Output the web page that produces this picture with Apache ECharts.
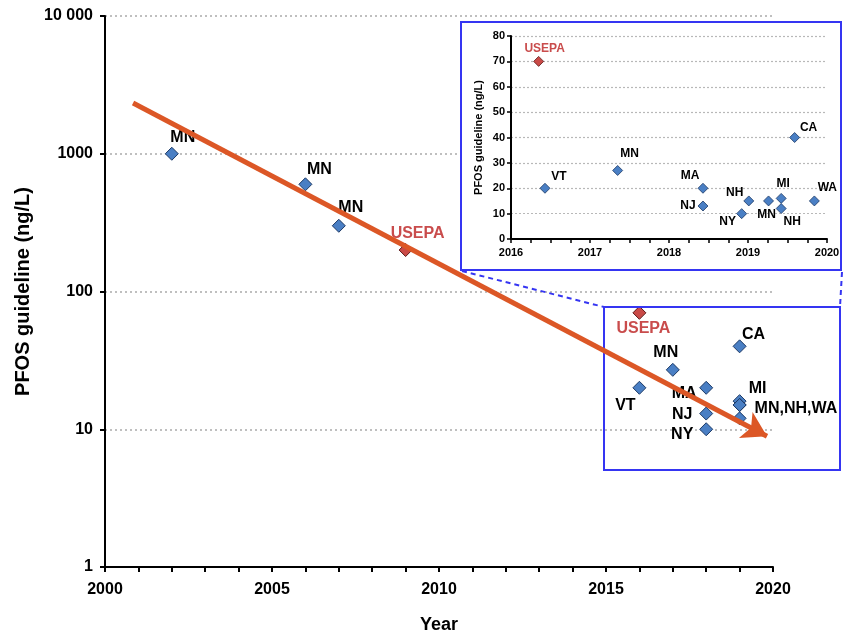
<!DOCTYPE html>
<html>
<head>
<meta charset="utf-8">
<title>PFOS guideline over time</title>
<script src="https://cdn.jsdelivr.net/npm/echarts@6/dist/echarts.min.js"></script>
<style>
  html, body { margin: 0; padding: 0; background: #fff; }
  #chart { width: 844px; height: 634px; }
</style>
</head>
<body>
<div id="chart"></div>
<script>
// ---- Main panel (log scale): state guidelines ----
const stateYears  = [2002, 2006, 2007, 2016, 2017, 2018, 2018, 2018, 2019, 2019, 2019, 2019, 2019, 2019];
const stateValues = [1000, 600, 300, 20, 27, 20, 13, 10, 40, 16, 15, 15, 12, 15];
const stateNames  = ['MN', 'MN', 'MN', 'VT', 'MN', 'MA', 'NJ', 'NY', 'CA', 'MI', 'MN,NH,WA', '', '', ''];

// ---- Main panel: federal (USEPA) advisories ----
const epaYears  = [2009, 2016];
const epaValues = [200, 70];
const epaNames  = ['USEPA', 'USEPA'];

// ---- Trend arrow endpoints (year, ng/L) ----
const trendStart = [2000.84, 2335];
const trendEnd   = [2019.82, 8.9];

// ---- Inset panel (linear scale), 2016–2020 detail ----
const insetStateYears  = [2016.43, 2017.35, 2018.43, 2018.43, 2018.92, 2019.01, 2019.26, 2019.42, 2019.42, 2019.59, 2019.84];
const insetStateValues = [20, 27, 20, 13, 10, 15, 15, 16, 12, 40, 15];
const insetStateNames  = ['VT', 'MN', 'MA', 'NJ', 'NY', 'NH', 'MN', 'MI', 'NH', 'CA', 'WA'];
const insetEpaYears  = [2016.35];
const insetEpaValues = [70];
const insetEpaNames  = ['USEPA'];

// ---- Tick labels ----
const mainYearTicks = [2000, 2005, 2010, 2015, 2020];
const insetYearTicks = [2016, 2017, 2018, 2019, 2020];

// Label placement (pixel offsets from each marker centre)
const stateLabelOffsets = [[11, -16], [14, -15], [12, -18], [-14, 18], [-7, -17], [-22, 6], [-24, 1], [-24, 5], [14, -12], [18, -13], null, null, null, null];
const epaLabelOffsets = [[12, -16], [4, 16]];
const insetStateLabelOffsets = [[14, -12], [12, -17], [-13, -13], [-15, 0], [-14, 8], [-14, -8], [-2, 14], [2, -15], [11, 13], [14, -10], [13, -13]];
const insetEpaLabelOffsets = [[6, -13]];

const FONT = "'Liberation Sans', Arial, sans-serif";
const BLUE_FILL = '#4a7fc4';
const BLUE_EDGE = '#1d3a66';
const RED_FILL = '#c94a47';
const RED_EDGE = '#5c1a1a';
const RED_TEXT = '#c94c4c';
const INK = '#000000';
const FRAME = '#3535f2';
const ARROW = '#dc5726';

function points(xs, ys, names, offsets, fontSize, color) {
  return xs.map((x, i) => {
    const item = { value: [x, ys[i]], name: names[i] };
    const base = {
      show: true, color: color, opacity: 1, fontFamily: FONT, fontWeight: 'bold', fontSize: fontSize,
      textBorderWidth: 0, textShadowBlur: 0
    };
    if (names[i] && !offsets[i]) {
      item.label = Object.assign(base, { position: 'right', distance: 8, offset: [0, 4] });
    } else if (names[i]) {
      item.label = Object.assign(base, { position: 'inside', offset: offsets[i] });
    } else {
      item.label = { show: false };
    }
    return item;
  });
}

const chart = echarts.init(document.getElementById('chart'), null, { renderer: 'canvas' });

const option = {
  animation: false,
  backgroundColor: '#ffffff',
  textStyle: { fontFamily: FONT },
  grid: [
    { left: 105, top: 16, right: 71, bottom: 67, containLabel: false, outerBoundsMode: 'none' },
    { left: 511, top: 36, right: 17, bottom: 395, containLabel: false, outerBoundsMode: 'none' }
  ],
  xAxis: [
    {
      gridIndex: 0, type: 'value', min: 2000, max: 2020, interval: 5, z: 0,
      name: 'Year', nameLocation: 'middle', nameGap: 49,
      nameTextStyle: { fontFamily: FONT, fontWeight: 'bold', fontSize: 18, color: INK },
      axisLine: { lineStyle: { color: INK, width: 2 } },
      axisTick: { show: true, length: 5, lineStyle: { color: INK, width: 2 } },
      minorTick: { show: true, splitNumber: 5, length: 5, lineStyle: { color: INK, width: 2 } },
      axisLabel: {
        fontFamily: FONT, fontWeight: 'bold', fontSize: 16, color: INK, margin: 15,
        formatter: v => (mainYearTicks.indexOf(v) >= 0 ? String(v) : '')
      },
      splitLine: { show: false }
    },
    {
      gridIndex: 1, type: 'value', min: 2016, max: 2020, interval: 1, z: 4,
      axisLine: { lineStyle: { color: INK, width: 2 } },
      axisTick: { show: true, length: 4, lineStyle: { color: INK, width: 1.5 } },
      minorTick: { show: true, splitNumber: 4, length: 4, lineStyle: { color: INK, width: 1.5 } },
      axisLabel: {
        fontFamily: FONT, fontWeight: 'bold', fontSize: 11, color: INK, margin: 8,
        formatter: v => (insetYearTicks.indexOf(v) >= 0 ? String(v) : '')
      },
      splitLine: { show: false }
    }
  ],
  yAxis: [
    {
      gridIndex: 0, type: 'log', logBase: 10, min: 1, max: 10000, z: 0,
      name: 'PFOS guideline (ng/L)', nameLocation: 'middle', nameGap: 67,
      nameTextStyle: { fontFamily: FONT, fontWeight: 'bold', fontSize: 20, color: INK },
      axisLine: { show: true, lineStyle: { color: INK, width: 2 } },
      axisTick: { show: true, length: 5, lineStyle: { color: INK, width: 2 } },
      minorTick: { show: false },
      axisLabel: {
        fontFamily: FONT, fontWeight: 'bold', fontSize: 16, color: INK, margin: 12,
        formatter: v => (v >= 10000 ? '10 000' : String(Math.round(v)))
      },
      splitLine: { show: true, lineStyle: { color: '#ababab', width: 1.5, type: [2, 3] } }
    },
    {
      gridIndex: 1, type: 'value', min: 0, max: 80, interval: 10, z: 4,
      name: 'PFOS guideline (ng/L)', nameLocation: 'middle', nameGap: 27,
      nameTextStyle: { fontFamily: FONT, fontWeight: 'bold', fontSize: 11, color: INK },
      axisLine: { show: true, lineStyle: { color: INK, width: 2 } },
      axisTick: { show: true, length: 4, lineStyle: { color: INK, width: 1.5 } },
      axisLabel: { fontFamily: FONT, fontWeight: 'bold', fontSize: 11, color: INK, margin: 6 },
      splitLine: { show: true, lineStyle: { color: '#b8b8b8', width: 1.2, type: [2, 2] } }
    }
  ],
  graphic: {
    elements: [
      // inset panel frame (white backing so main gridlines stop behind it)
      { type: 'rect', z: 3, silent: true,
        shape: { x: 461, y: 22, width: 380, height: 248 },
        style: { fill: '#ffffff', stroke: FRAME, lineWidth: 2 } },
      // zoom region frame in main panel
      { type: 'rect', z: 3, silent: true,
        shape: { x: 604, y: 307, width: 236, height: 163 },
        style: { fill: null, stroke: FRAME, lineWidth: 2 } },
      // connectors between zoom region and inset
      { type: 'line', z: 3, silent: true,
        shape: { x1: 462, y1: 271, x2: 604, y2: 307 },
        style: { stroke: FRAME, lineWidth: 2, lineDash: [5, 4] } },
      { type: 'line', z: 3, silent: true,
        shape: { x1: 842, y1: 272, x2: 840, y2: 307 },
        style: { stroke: FRAME, lineWidth: 2, lineDash: [5, 4] } }
    ]
  },
  series: [
    {
      type: 'scatter', xAxisIndex: 0, yAxisIndex: 0, z: 2,
      symbol: 'diamond', symbolSize: 13,
      itemStyle: { color: BLUE_FILL, borderColor: BLUE_EDGE, borderWidth: 1, opacity: 1 },
      label: { formatter: '{b}' },
      data: points(stateYears, stateValues, stateNames, stateLabelOffsets, 16, INK)
    },
    {
      type: 'scatter', xAxisIndex: 0, yAxisIndex: 0, z: 2,
      symbol: 'diamond', symbolSize: 13,
      itemStyle: { color: RED_FILL, borderColor: RED_EDGE, borderWidth: 1, opacity: 1 },
      label: { formatter: '{b}' },
      data: points(epaYears, epaValues, epaNames, epaLabelOffsets, 16, RED_TEXT)
    },
    {
      // declining trend arrow
      type: 'scatter', xAxisIndex: 0, yAxisIndex: 0, z: 10,
      data: [],
      markLine: {
        silent: true, animation: false, z: 10,
        symbol: ['none', 'arrow'], symbolSize: [22, 24],
        label: { show: false },
        lineStyle: { color: ARROW, width: 5, type: 'solid', opacity: 1 },
        emphasis: { disabled: true },
        data: [[{ coord: trendStart }, { coord: trendEnd }]]
      }
    },
    {
      type: 'scatter', xAxisIndex: 1, yAxisIndex: 1, z: 6,
      symbol: 'diamond', symbolSize: 10,
      itemStyle: { color: BLUE_FILL, borderColor: BLUE_EDGE, borderWidth: 0.8, opacity: 1 },
      label: { formatter: '{b}' },
      data: points(insetStateYears, insetStateValues, insetStateNames, insetStateLabelOffsets, 12, INK)
    },
    {
      type: 'scatter', xAxisIndex: 1, yAxisIndex: 1, z: 6,
      symbol: 'diamond', symbolSize: 10,
      itemStyle: { color: RED_FILL, borderColor: RED_EDGE, borderWidth: 0.8, opacity: 1 },
      label: { formatter: '{b}' },
      data: points(insetEpaYears, insetEpaValues, insetEpaNames, insetEpaLabelOffsets, 12, RED_TEXT)
    }
  ]
};

chart.setOption(option);
</script>
</body>
</html>
